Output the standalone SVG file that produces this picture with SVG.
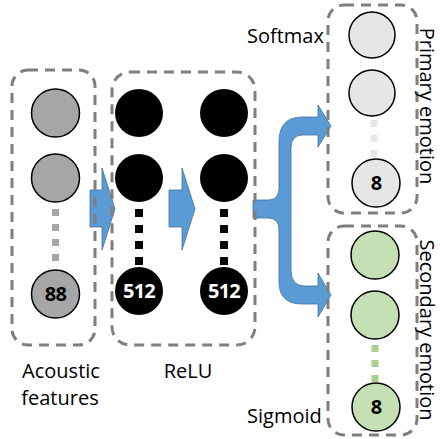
<svg xmlns="http://www.w3.org/2000/svg" width="440" height="439" viewBox="0 0 440 439">
<style>
.box{fill:none;stroke:#7f7f7f;stroke-width:3;stroke-dasharray:10 7}
.arr{fill:#5b9bd5;stroke:#41719c;stroke-width:0.8}
.c{stroke:#000;stroke-width:1.5}
.t{font-family:"Open Sans","Noto Sans",sans-serif;font-size:20px;fill:#000}
.n{font-family:"Open Sans","Noto Sans",sans-serif;font-size:20px;font-weight:bold;text-anchor:middle;letter-spacing:-0.8px}
.dots{stroke-width:7;stroke-dasharray:7 8}
</style>
<rect width="440" height="439" fill="#fff"/>
<g id="connectors">
<path class="arr" d="M90,190 L102,190 L102,168 L115,209 L102,250 L102,227 L90,227 Z"/>
<path class="arr" d="M169,190 L182,190 L182,168 L195,209 L182,250 L182,227 L169,227 Z"/>
<path class="arr" d="M253,200 L268,200 Q279,200 279,188 L279,142 Q279,117 302,117 L318,117 L318,105 L331,126 L318,147 L318,135 L303,135 Q291,135 291,148 L291,270 Q291,286 305,286 L318,286 L318,273 L331,295 L318,317 L318,304 L302,304 Q279,304 279,282 L279,230 Q279,218 268,218 L253,218 Z"/>
</g>
<g id="input-layer">
<rect class="box" x="12" y="70" width="83" height="275" rx="16"/>
<circle class="c" cx="55.5" cy="113" r="24" fill="#a6a6a6"/>
<circle class="c" cx="55.5" cy="178" r="24" fill="#a6a6a6"/>
<line class="dots" x1="55.5" y1="209" x2="55.5" y2="268" stroke="#a6a6a6"/>
<circle class="c" cx="55.5" cy="294" r="24" fill="#a6a6a6"/>
<text class="n" x="55.5" y="301" fill="#000">88</text>
</g>
<g id="hidden-layers">
<rect class="box" x="112" y="72" width="143" height="273" rx="18"/>
<circle cx="139" cy="113" r="24" fill="#000"/>
<circle cx="139" cy="178" r="24" fill="#000"/>
<line class="dots" x1="139" y1="209" x2="139" y2="266" stroke="#000" style="stroke-width:8;stroke-dasharray:8 8"/>
<circle cx="139" cy="291" r="24" fill="#000"/>
<text class="n" x="139" y="298" fill="#fff">512</text>
<circle cx="224" cy="113" r="24" fill="#000"/>
<circle cx="224" cy="178" r="24" fill="#000"/>
<line class="dots" x1="224" y1="209" x2="224" y2="266" stroke="#000" style="stroke-width:8;stroke-dasharray:8 8"/>
<circle cx="224" cy="291" r="24" fill="#000"/>
<text class="n" x="224" y="298" fill="#fff">512</text>
</g>
<g id="primary-output">
<rect class="box" x="328" y="5" width="89" height="208" rx="16"/>
<circle class="c" cx="372" cy="35" r="23" fill="#e7e6e6"/>
<circle class="c" cx="372" cy="93" r="23" fill="#e7e6e6"/>
<line class="dots" x1="374" y1="120" x2="374" y2="158" stroke="#e7e6e6"/>
<circle class="c" cx="376" cy="183" r="24" fill="#e7e6e6"/>
<text class="n" x="376" y="190" fill="#000">8</text>
</g>
<g id="secondary-output">
<rect class="box" x="328" y="226" width="89" height="209" rx="16"/>
<circle class="c" cx="375" cy="255" r="24" fill="#c5e0b4"/>
<circle class="c" cx="375" cy="315" r="24" fill="#c5e0b4"/>
<line class="dots" x1="375" y1="345" x2="375" y2="382" stroke="#a9d18e"/>
<circle class="c" cx="376" cy="407" r="24" fill="#c5e0b4"/>
<text class="n" x="376" y="414" fill="#000">8</text>
</g>
<g id="labels">
<text class="t" x="247" y="43">Softmax</text>
<text class="t" x="247" y="423">Sigmoid</text>
<text class="t" x="61" y="378" text-anchor="middle">Acoustic</text>
<text class="t" x="60" y="405" text-anchor="middle">features</text>
<text class="t" x="188" y="378" text-anchor="middle">ReLU</text>
<text class="t" transform="translate(420,106) rotate(90)" text-anchor="middle">Primary emotion</text>
<text class="t" transform="translate(420,330) rotate(90)" text-anchor="middle">Secondary emotion</text>
</g>
</svg>
